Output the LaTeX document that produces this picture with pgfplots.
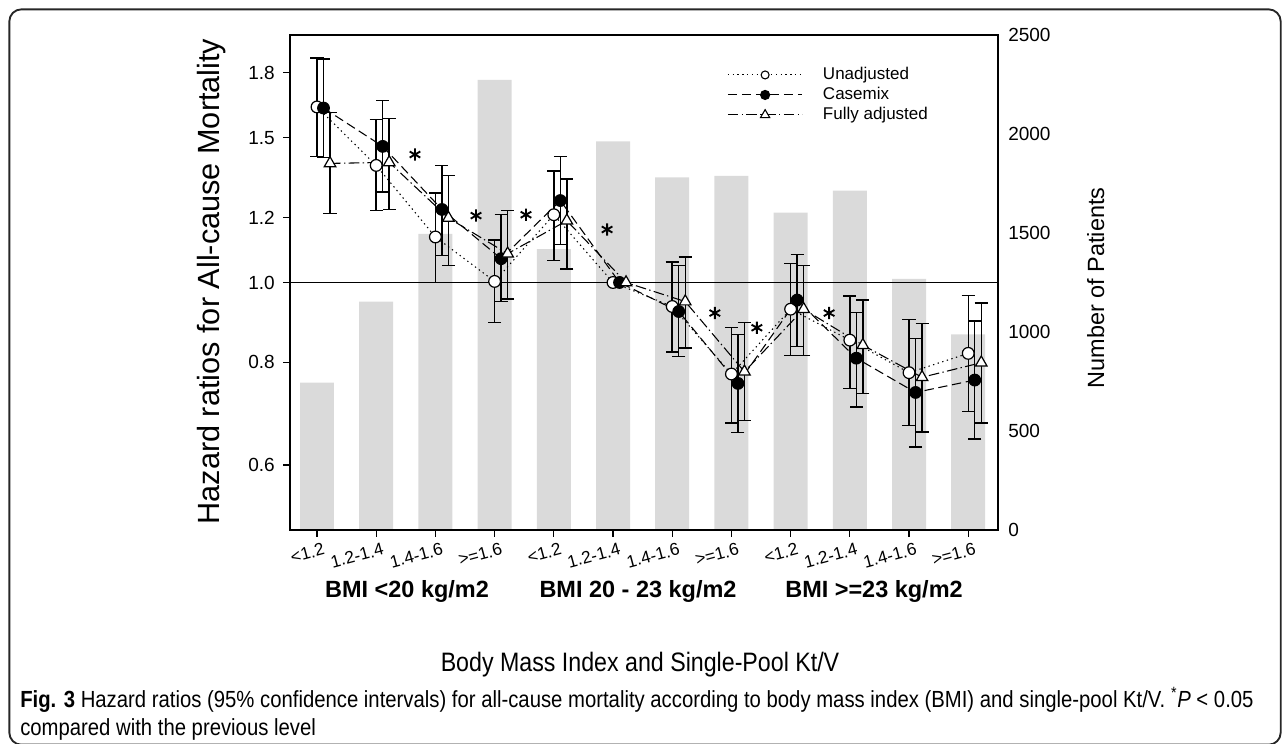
\documentclass[border=0pt]{standalone}
\usepackage{fontspec}
\setmainfont{Liberation Sans}
\newfontfamily\capfont[FakeStretch=0.87]{Liberation Sans}
\usepackage{pgfplots}
\usepackage{pgfplotstable}
\pgfplotsset{compat=1.18}
\definecolor{barcol}{RGB}{218,218,218}

\pgfplotstableread{
x n
0 745
1 1153
2 1495
3 2273
4 1418
5 1963
6 1781
7 1788
8 1603
9 1714
10 1268
11 988
}\bars

\pgfplotstableread{
x y ep em
0 1.635 0.240 0.212
1 1.388 0.191 0.165
2 1.136 0.149 0.136
3 1.003 0.124 0.109
4 1.209 0.157 0.146
5 1.000 0 0
6 0.935 0.124 0.112
7 0.774 0.108 0.099
8 0.928 0.126 0.113
9 0.851 0.112 0.108
10 0.777 0.124 0.107
11 0.820 0.144 0.123
}\unadj

\pgfplotstableread{
x y ep em
0.11 1.630 0.240 0.210
1.11 1.464 0.201 0.176
2.11 1.227 0.161 0.148
3.11 1.069 0.140 0.121
4.11 1.258 0.166 0.146
5.11 1.000 0 0
6.11 0.922 0.127 0.109
7.11 0.754 0.111 0.097
8.11 0.952 0.129 0.116
9.11 0.809 0.111 0.103
10.11 0.735 0.120 0.104
11.11 0.761 0.137 0.116
}\casemix

\pgfplotstableread{
x y ep em
0.22 1.396 0.214 0.183
1.22 1.400 0.183 0.174
2.22 1.198 0.151 0.149
3.22 1.084 0.139 0.129
4.22 1.189 0.148 0.150
5.22 1.000 0 0
6.22 0.948 0.126 0.116
7.22 0.779 0.115 0.099
8.22 0.928 0.121 0.113
9.22 0.839 0.113 0.106
10.22 0.767 0.125 0.109
11.22 0.799 0.145 0.124
}\full

\tikzset{
  unadjline/.style={black, line width=0.8pt, dash pattern=on 1pt off 2.6pt},
  casemixline/.style={black, line width=0.8pt, dash pattern=on 7pt off 3.5pt},
  fullline/.style={black, line width=0.8pt, dash pattern=on 8pt off 2.5pt on 1pt off 2.5pt},
}
\pgfplotsset{
  errplot/.style={only marks, mark=*, mark size=0.2pt, mark options={black},
    forget plot, skip coords between index={5}{6},
    error bars/.cd, y dir=both, y explicit, error mark=|,
    error mark options={draw=black, line width=1.1pt, mark size=4.9pt, solid},
    error bar style={draw=black, line width=1.1pt, solid}},
}

\begin{document}
\begin{tikzpicture}
\path[use as bounding box] (0,0) rectangle (965.25pt,-557.25pt);
\draw[line width=1.4pt, black!85, rounded corners=9pt] (7pt,-7pt) rectangle (960.5pt,-558.5pt);

% bars (number of patients), right axis
\begin{axis}[
  at={(217.5pt,-397.5pt)}, anchor=south west,
  width=531pt, height=371.25pt, scale only axis,
  xmin=-0.456, xmax=11.503, ymin=0, ymax=2500,
  hide x axis, axis line style={draw=none},
  yticklabel pos=right,
  ytick={0,500,1000,1500,2000,2500},
  yticklabels={0,500,1000,1500,2000,2500},
  major tick length=0pt,
  yticklabel style={font=\fontsize{14.25pt}{16pt}\selectfont, anchor=west, inner sep=0pt, xshift=7.5pt},
  ybar, bar width=0.574, bar shift=0pt,
]
\addplot[fill=barcol, draw=none] table[x=x, y=n] {\bars};
\end{axis}

% hazard ratios, left log axis
\begin{axis}[
  at={(217.5pt,-397.5pt)}, anchor=south west,
  width=531pt, height=371.25pt, scale only axis,
  xmin=-0.456, xmax=11.503,
  ymode=log, ymin=0.5, ymax=2,
  axis line style={line width=1.1pt},
  tick pos=left, tick align=outside,
  major tick length=5.25pt, minor tick num=0,
  tick style={black, line width=1pt},
  xtick={0,1,2,3,4,5,6,7,8,9,10,11},
  xticklabels={{<1.2},{1.2-1.4},{1.4-1.6},{>=1.6},{<1.2},{1.2-1.4},{1.4-1.6},{>=1.6},{<1.2},{1.2-1.4},{1.4-1.6},{>=1.6}},
  xticklabel style={font=\fontsize{13pt}{15pt}\selectfont, rotate=15, anchor=north east, inner sep=0pt, xshift=3pt, yshift=-5pt},
  ytick={0.6,0.8,1,1.2,1.5,1.8},
  yticklabels={0.6,0.8,1.0,1.2,1.5,1.8},
  yticklabel style={font=\fontsize{14.25pt}{16pt}\selectfont, inner sep=0pt, xshift=-6pt},
  /pgf/number format/assume math mode=true,
  legend style={at={(0.6172,0.936)}, anchor=north west, draw=none, fill=none,
    font=\fontsize{12.75pt}{14pt}\selectfont, inner sep=0pt, row sep=3pt, column sep=15pt,
    nodes={inner sep=0pt, text height=9.5pt, text depth=2.5pt}},
  legend cell align=left,
  legend image code/.code={\draw[mark repeat=2,mark phase=2,#1] plot coordinates {(0pt,0pt) (28pt,0pt) (56pt,0pt)};},
]
\addplot[black, line width=0.9pt, forget plot] coordinates {(-0.456,1) (11.503,1)};

\addplot[errplot] table[x=x, y=y, y error plus=ep, y error minus=em] {\unadj};
\addplot[errplot] table[x=x, y=y, y error plus=ep, y error minus=em] {\casemix};
\addplot[errplot] table[x=x, y=y, y error plus=ep, y error minus=em] {\full};

\addplot[unadjline, forget plot, mark=*, mark size=4.4pt, mark options={solid, fill=white, draw=black, line width=0.9pt}]
  table[x=x, y=y] {\unadj};
\addplot[casemixline, forget plot, mark=*, mark size=4.4pt, mark options={solid, fill=black, draw=black}]
  table[x=x, y=y] {\casemix};
\addplot[fullline, forget plot, mark=triangle*, mark size=5pt, mark options={solid, fill=white, draw=black, line width=0.9pt}]
  table[x=x, y=y] {\full};

\addplot[only marks, forget plot, mark=asterisk, mark size=4.6pt, mark options={black, line width=1.4pt}]
  coordinates {(1.655,1.431) (2.686,1.206) (3.53,1.209) (4.90,1.160) (6.72,0.918) (7.43,0.881) (8.65,0.918)};

\addlegendimage{unadjline, mark=*, mark size=3pt, mark options={solid, fill=white, draw=black, line width=0.8pt}}
\addlegendentry{Unadjusted}
\addlegendimage{casemixline, mark=*, mark size=3.4pt, mark options={solid, fill=black}}
\addlegendentry{Casemix}
\addlegendimage{fullline, mark=triangle*, mark size=4pt, mark options={solid, fill=white, draw=black, line width=0.8pt}}
\addlegendentry{Fully adjusted}
\end{axis}

\begin{scope}[x=0.75pt, y=-0.75pt]
\node[rotate=90, anchor=base, inner sep=0pt, font=\fontsize{23pt}{26pt}\selectfont] at (219,281.5) {Hazard ratios for All-cause Mortality};
\node[rotate=90, anchor=base, inner sep=0pt, font=\fontsize{17.6pt}{20pt}\selectfont] at (1104,288) {Number of Patients};
\node[anchor=base, inner sep=0pt, font=\bfseries\fontsize{17.6pt}{20pt}\selectfont] at (407,597) {BMI <20 kg/m2};
\node[anchor=base, inner sep=0pt, font=\bfseries\fontsize{17.6pt}{20pt}\selectfont] at (638,597) {BMI 20 - 23 kg/m2};
\node[anchor=base, inner sep=0pt, font=\bfseries\fontsize{17.6pt}{20pt}\selectfont] at (874,597) {BMI >=23 kg/m2};
\node[anchor=base, inner sep=0pt, font=\capfont\fontsize{20pt}{22pt}\selectfont] at (640,671) {Body Mass Index and Single-Pool Kt/V};
\node[anchor=base west, inner sep=0pt, font=\capfont\fontsize{17.5pt}{19pt}\selectfont] at (20,707) {\textbf{Fig. 3} Hazard ratios (95\% confidence intervals) for all-cause mortality according to body mass index (BMI) and single-pool Kt/V. \textsuperscript{*}\textit{P} < 0.05};
\node[anchor=base west, inner sep=0pt, font=\capfont\fontsize{17.5pt}{19pt}\selectfont] at (20,735) {compared with the previous level};
\end{scope}
\end{tikzpicture}
\end{document}
